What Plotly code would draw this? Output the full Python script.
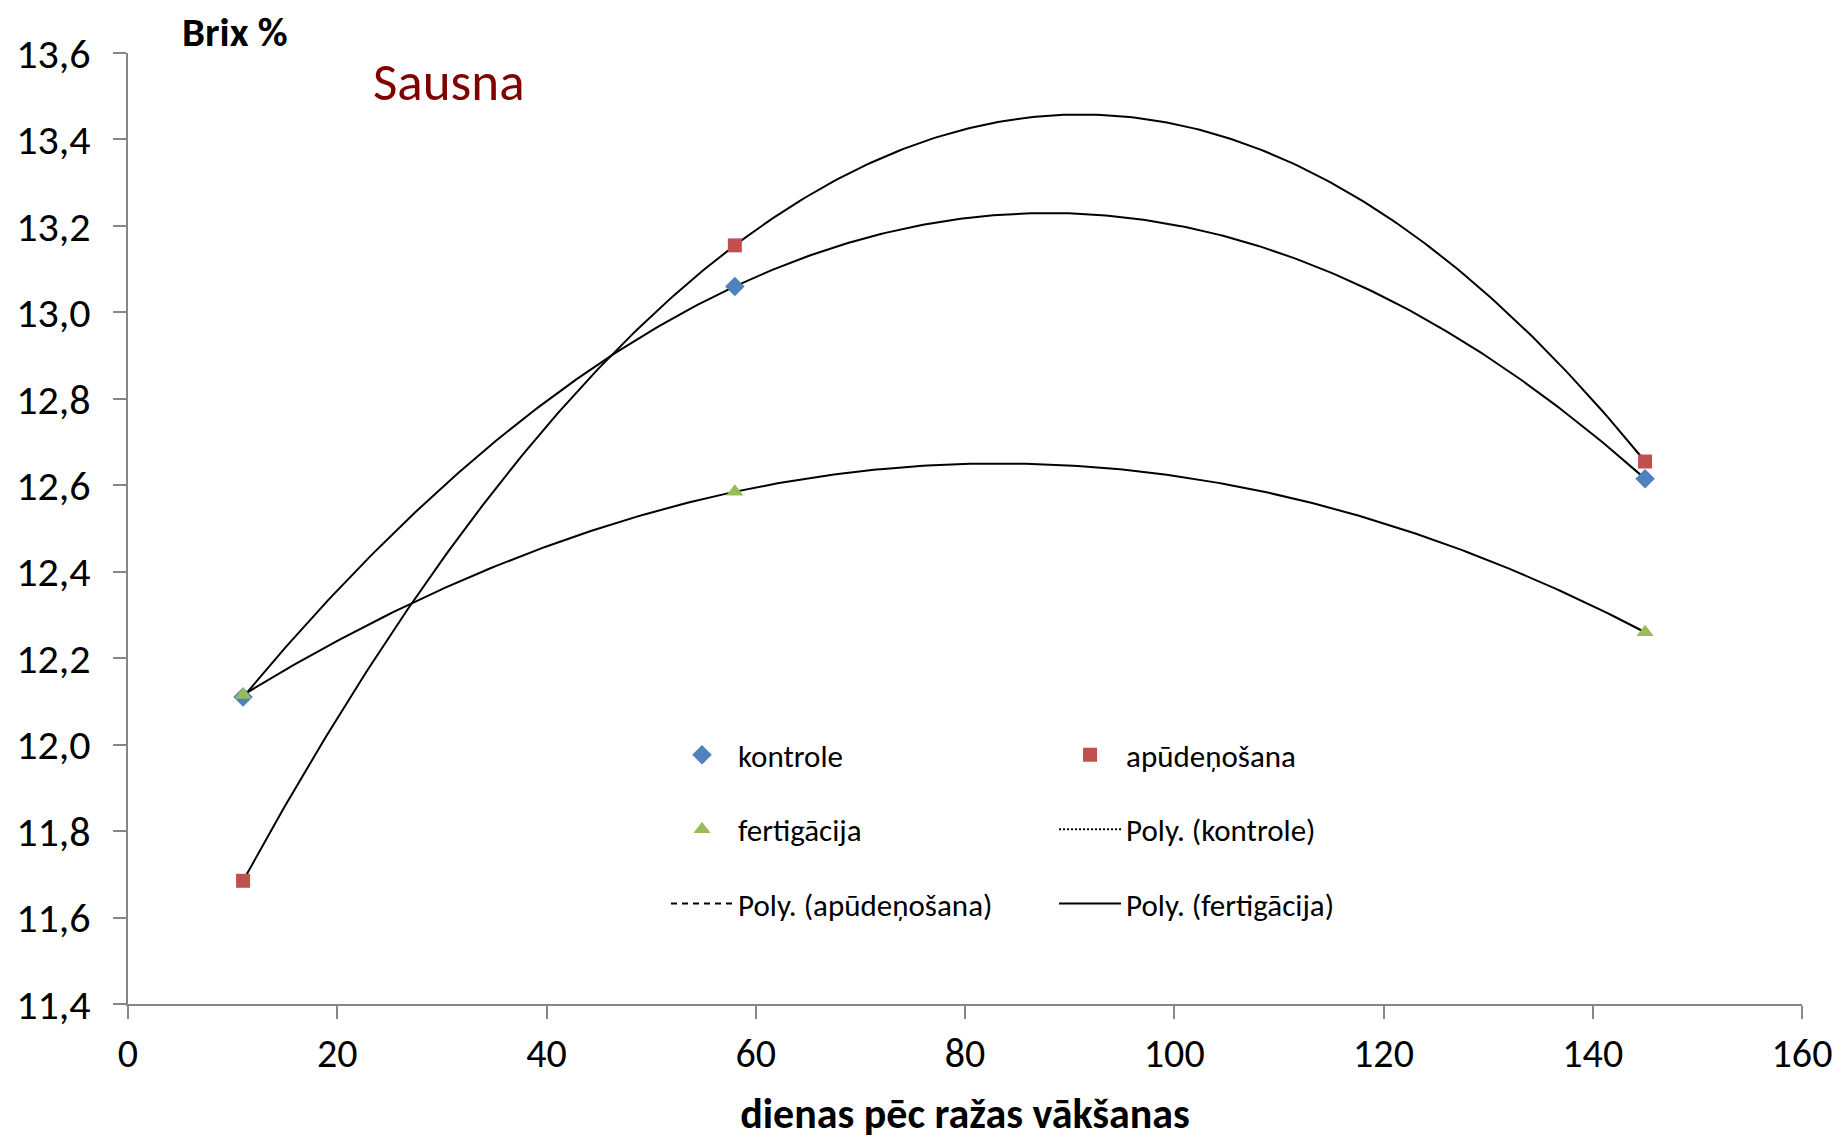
import numpy as np
import plotly.graph_objects as go

# ---- data ----
days = [11, 58, 145]
kontrole = [12.11, 13.06, 12.615]
apudenosana = [11.685, 13.155, 12.655]
fertigacija = [12.115, 12.585, 12.26]

series_names = ["kontrole", "apūdeņošana", "fertigācija"]
x_ticks = [0, 20, 40, 60, 80, 100, 120, 140, 160]
y_ticks = [11.4, 11.6, 11.8, 12.0, 12.2, 12.4, 12.6, 12.8, 13.0, 13.2, 13.4, 13.6]

FONT = "Carlito, 'Liberation Sans Narrow', 'Open Sans', sans-serif"
AXIS_COL = "#868686"

colors = ["#4F81BD", "#C0504D", "#9BBB59"]
symbols = ["diamond", "square", "triangle-up"]
msizes = [15, 14, 15]
trend_dash = ["solid", "solid", "solid"]
legend_dash = ["2px,2px", "6px,5px", "solid"]

fig = go.Figure()

xs = np.linspace(days[0], days[-1], 300)
for vals, dash in zip([kontrole, apudenosana, fertigacija], trend_dash):
    coef = np.polyfit(days, vals, 2)
    fig.add_trace(go.Scatter(x=xs, y=np.polyval(coef, xs), mode="lines",
                             line=dict(color="black", width=2, dash=dash),
                             showlegend=False, hoverinfo="skip"))

legend_of = ["legend", "legend2", "legend"]
for i, (name, vals) in enumerate(zip(series_names, [kontrole, apudenosana, fertigacija])):
    fig.add_trace(go.Scatter(x=days, y=vals, mode="markers", name=name,
                             marker=dict(color=colors[i], symbol=symbols[i], size=msizes[i]),
                             legend=legend_of[i], legendgroup="m" + str(i)))

poly_legend = ["legend2", "legend", "legend2"]
for i, name in enumerate(series_names):
    fig.add_trace(go.Scatter(x=[None], y=[None], mode="lines", name="Poly. (" + name + ")",
                             line=dict(color="black", width=2, dash=legend_dash[i]),
                             legend=poly_legend[i], legendgroup="p" + str(i)))

leg_common = dict(bgcolor="rgba(0,0,0,0)", font=dict(family=FONT, size=31, color="black"),
                  tracegroupgap=31, itemwidth=62, yanchor="top", xanchor="left",
                  traceorder="grouped")
fig.update_layout(
    width=1841, height=1139,
    paper_bgcolor="white", plot_bgcolor="white",
    margin=dict(l=128, r=39, t=53, b=135),
    separators=", ",
    font=dict(family=FONT, color="black"),
    legend=dict(x=0.3214, y=0.29, **leg_common),
    legend2=dict(x=0.5532, y=0.29, **leg_common),
    xaxis=dict(range=[0, 160], tickvals=x_ticks, ticks="outside", ticklen=13,
               tickwidth=2, tickcolor=AXIS_COL, showline=True, linecolor=AXIS_COL,
               linewidth=2, showgrid=False, zeroline=False, automargin=False,
               tickfont=dict(family=FONT, size=40, color="black"),
               title=dict(text="<b>dienas pēc ražas vākšanas</b>",
                          font=dict(family=FONT, size=42, color="black"), standoff=27)),
    yaxis=dict(range=[11.4, 13.6], tickvals=y_ticks, tickformat=".1f", ticks="outside",
               ticklen=13, tickwidth=2, tickcolor=AXIS_COL, showline=True,
               linecolor=AXIS_COL, linewidth=2, showgrid=False, zeroline=False,
               automargin=False,
               tickfont=dict(family=FONT, size=42, color="black"), ticklabelstandoff=14),
    annotations=[
        dict(text="<b>Brix %</b>", xref="paper", yref="paper", x=0.031, y=1.022,
             xanchor="left", yanchor="middle", showarrow=False,
             font=dict(family=FONT, size=41, color="black")),
        dict(text="Sausna", xref="paper", yref="paper", x=0.145, y=0.97,
             xanchor="left", yanchor="middle", showarrow=False,
             font=dict(family=FONT, size=53, color="#800000")),
    ],
)

fig.write_html("out.html", config={"displayModeBar": False},
               post_script="document.body.style.margin='0';document.body.style.overflow='hidden';")
